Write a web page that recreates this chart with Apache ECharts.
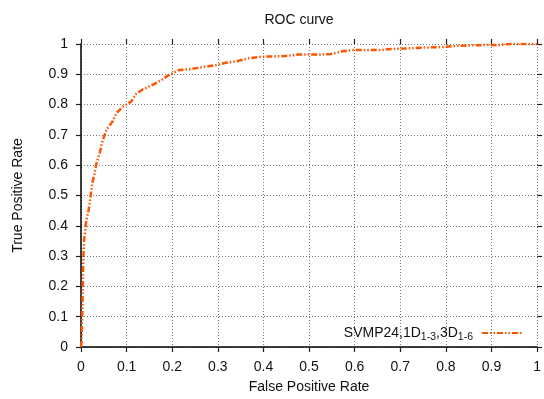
<!DOCTYPE html>
<html>
<head>
<meta charset="utf-8">
<script src="https://cdn.jsdelivr.net/npm/echarts@6/dist/echarts.min.js"></script>
<style>
  html, body { margin: 0; padding: 0; background: #fff; }
  #chart { width: 544px; height: 399px; }
</style>
</head>
<body>
<div id="chart"></div>
<script>
// ROC curve: false positive rate vs true positive rate
const fpr = [0, 0.001, 0.003, 0.004, 0.005, 0.007, 0.011, 0.012, 0.017, 0.021, 0.025, 0.030,
  0.034, 0.041, 0.048, 0.056, 0.069, 0.078, 0.092, 0.110, 0.120, 0.135, 0.157, 0.175,
  0.193, 0.215, 0.244, 0.273, 0.299, 0.317, 0.338, 0.367, 0.396, 0.447, 0.476, 0.520,
  0.549, 0.570, 0.592, 0.650, 0.657, 0.672, 0.722, 0.744, 0.795, 0.824, 0.867, 0.918,
  0.940, 1.0];
const tpr = [0, 0.016, 0.114, 0.200, 0.290, 0.355, 0.410, 0.420, 0.454, 0.498, 0.542, 0.575,
  0.607, 0.640, 0.684, 0.717, 0.744, 0.772, 0.794, 0.810, 0.834, 0.850, 0.865, 0.880,
  0.898, 0.914, 0.918, 0.925, 0.931, 0.938, 0.942, 0.953, 0.958, 0.960, 0.965, 0.965,
  0.967, 0.975, 0.980, 0.980, 0.980, 0.983, 0.986, 0.988, 0.990, 0.994, 0.996, 0.997,
  1.0, 1.0];
const tickLabels = ['0', '0.1', '0.2', '0.3', '0.4', '0.5', '0.6', '0.7', '0.8', '0.9', '1'];
const seriesName = 'SVMP24,1D1-3,3D1-6';

const FONT = '"Liberation Sans", Arial, Helvetica, sans-serif';
const LINE_COLOR = '#ff5500';

const points = fpr.map((x, i) => [x, tpr[i]]);
const fmt = v => tickLabels[Math.round(v * 10)];

function valueAxis(position, main) {
  return {
    type: 'value',
    position: position,
    min: 0, max: 1, interval: 0.1,
    axisLine: { show: main, onZero: false, lineStyle: { color: '#000', width: 1.5 } },
    axisTick: { show: true, inside: false, length: 5, lineStyle: { color: '#222', width: 1.2 } },
    axisLabel: main ? { show: true, formatter: fmt, color: '#111', fontSize: 14, fontFamily: FONT, margin: 13 } : { show: false },
    splitLine: main ? { show: true, lineStyle: { color: '#777', type: [1, 2], width: 1 } } : { show: false }
  };
}

const chart = echarts.init(document.getElementById('chart'), null, { renderer: 'canvas' });
const xMain = valueAxis('bottom', true);
xMain.name = 'False Positive Rate';
xMain.nameLocation = 'middle';
xMain.nameGap = 33;
xMain.nameTextStyle = { color: '#111', fontSize: 14, fontFamily: FONT };
const yMain = valueAxis('left', true);
yMain.name = 'True Positive Rate';
yMain.nameLocation = 'middle';
yMain.nameGap = 56;
yMain.nameTextStyle = { color: '#111', fontSize: 14, fontFamily: FONT };

chart.setOption({
  animation: false,
  backgroundColor: '#fff',
  title: {
    text: 'ROC curve',
    left: 294, top: 8,
    textAlign: 'center',
    textStyle: { color: '#111', fontSize: 14, fontWeight: 'normal', fontFamily: FONT }
  },
  grid: { left: 81, right: 4, top: 44, bottom: 51, containLabel: false },
  xAxis: [xMain, valueAxis('top', false)],
  yAxis: [yMain, valueAxis('right', false)],
  legend: {
    right: 16, top: 321,
    align: 'right',
    itemWidth: 40, itemHeight: 10,
    itemStyle: { opacity: 0 },
    data: [{ name: seriesName }],
    formatter: () => '{a|SVMP24,1D}{s|1-3}{a|,3D}{s|1-6}',
    textStyle: {
      color: '#111', fontFamily: FONT, padding: [0, 4, 0, 0],
      rich: {
        a: { fontSize: 14, fontFamily: FONT, color: '#111', lineHeight: 18, verticalAlign: 'middle' },
        s: { fontSize: 10.5, fontFamily: FONT, color: '#111', lineHeight: 18, verticalAlign: 'bottom', padding: [0, 0, -1, 0] }
      }
    }
  },
  series: [{
    name: seriesName,
    type: 'line',
    xAxisIndex: 0, yAxisIndex: 0,
    data: points,
    showSymbol: false,
    symbol: 'none',
    lineStyle: { color: LINE_COLOR, width: 2.5, type: [6, 2, 1.5, 2, 1.5, 2] },
    itemStyle: { color: LINE_COLOR }
  }]
});
</script>
</body>
</html>
